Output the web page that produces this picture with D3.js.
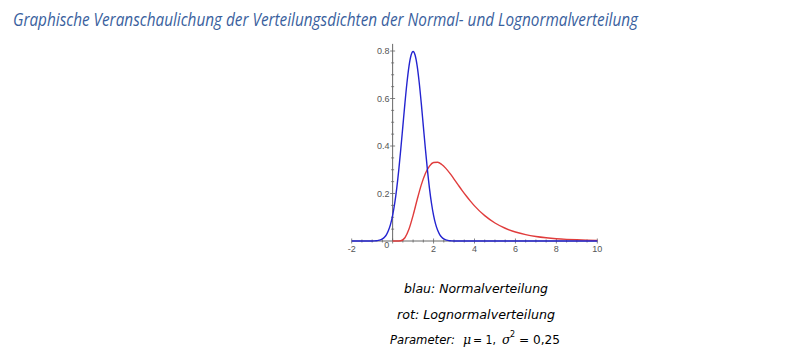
<!DOCTYPE html>
<html><head><meta charset="utf-8">
<script src="https://cdn.jsdelivr.net/npm/d3@7"></script>
<style>body{margin:0;background:#fff;} svg{display:block;}</style>
</head><body>
<script>
// Normal density (blau), mu=1, sigma=0.5
const normalX = [-2,-1.0,-0.9,-0.8,-0.7,-0.6,-0.5,-0.4,-0.3,-0.2,-0.1,0,0.1,0.2,0.3,0.4,0.5,0.6,0.7,0.8,0.9,1.0,1.1,1.2,1.3,1.4,1.5,1.6,1.7,1.8,1.9,2.0,2.1,2.2,2.3,2.4,2.5,2.6,2.7,2.8,2.9,3.0,10];
const normalY = [0,0.0003,0.0006,0.0012,0.0025,0.0048,0.0089,0.0158,0.0272,0.0448,0.0709,0.1080,0.1579,0.2218,0.2995,0.3884,0.4839,0.5794,0.6664,0.7365,0.7821,0.7979,0.7821,0.7365,0.6664,0.5794,0.4839,0.3884,0.2995,0.2218,0.1579,0.1080,0.0709,0.0448,0.0272,0.0158,0.0089,0.0048,0.0025,0.0012,0.0006,0.0003,0];
// Lognormal density (rot)
const lognormX = [0,0.2,0.4,0.6,0.8,1.0,1.2,1.4,1.6,1.8,2.0,2.2,2.4,2.6,2.8,3.0,3.2,3.4,3.6,3.8,4.0,4.5,5.0,5.5,6.0,6.5,7.0,7.5,8.0,8.5,9.0,9.5,10];
const lognormY = [0,0,0.0013,0.0138,0.0501,0.1080,0.1746,0.2363,0.2843,0.3156,0.3305,0.3316,0.3223,0.3057,0.2845,0.2608,0.2364,0.2123,0.1893,0.1678,0.1480,0.1067,0.0759,0.0537,0.0380,0.0268,0.0190,0.0136,0.0097,0.0070,0.0050,0.0037,0.0027];
const xTickLabels = [-2,0,2,4,6,8,10];
const yTickLabels = [0.2,0.4,0.6,0.8];
const titleText = "Graphische Veranschaulichung der Verteilungsdichten der Normal- und Lognormalverteilung";
const captionLines = ["blau: Normalverteilung","rot: Lognormalverteilung"];

const W=809,H=355;
const svg=d3.select("body").append("svg").attr("width",W).attr("height",H);

svg.append("text").attr("x",13).attr("y",26)
  .attr("font-family","'Open Sans', sans-serif").attr("font-style","italic")
  .attr("font-size",18).attr("fill","#3a5f9e")
  .attr("textLength",625).attr("lengthAdjust","spacingAndGlyphs")
  .text(titleText);

const x=d3.scaleLinear().domain([-2,10]).range([351.7,597.3]);
const y=d3.scaleLinear().domain([0,0.8]).range([241,51]);
const axisCol="#666";

const g=svg.append("g");
g.append("line").attr("x1",x(-2)).attr("x2",x(10)).attr("y1",y(0)).attr("y2",y(0)).attr("stroke",axisCol).attr("stroke-width",1);
g.append("line").attr("x1",x(0)).attr("x2",x(0)).attr("y1",y(0)).attr("y2",y(0.83)).attr("stroke",axisCol).attr("stroke-width",1);

d3.range(-2,10.001,0.5).forEach(v=>{
  const major = Math.abs(v-Math.round(v/2)*2)<1e-6;
  g.append("line").attr("x1",x(v)).attr("x2",x(v)).attr("y1",y(0)-(major?2.5:1.5)).attr("y2",y(0)+(major?2.5:1.5)).attr("stroke",axisCol).attr("stroke-width",0.8);
});
d3.range(0.05,0.801,0.05).forEach(v=>{
  const major = Math.abs(v*5-Math.round(v*5))<1e-6;
  g.append("line").attr("y1",y(v)).attr("y2",y(v)).attr("x1",x(0)-(major?2.5:1.5)).attr("x2",x(0)+(major?2.5:1.5)).attr("stroke",axisCol).attr("stroke-width",0.8);
});

g.selectAll("text.xt").data(xTickLabels).enter().append("text")
  .attr("x",d=>d===0? x(0)-6 : x(d)).attr("y",d=>d===0? y(0)+7 : y(0)+10.5)
  .attr("text-anchor","middle").attr("font-family","'Liberation Sans', Arial, sans-serif")
  .attr("font-size",9).attr("fill","#555").text(d=>d);
g.selectAll("text.yt").data(yTickLabels).enter().append("text")
  .attr("x",x(0)-3).attr("y",d=>y(d)+3)
  .attr("text-anchor","end").attr("font-family","'Liberation Sans', Arial, sans-serif")
  .attr("font-size",9).attr("fill","#555").text(d=>d);

const line=d3.line().x(d=>x(d[0])).y(d=>y(d[1])).curve(d3.curveMonotoneX);
svg.append("path").datum(lognormX.map((v,i)=>[v,lognormY[i]]))
  .attr("d",line).attr("fill","none").attr("stroke","#e03c3c").attr("stroke-width",1.4);
svg.append("path").datum(normalX.map((v,i)=>[v,normalY[i]]))
  .attr("d",line).attr("fill","none").attr("stroke","#2424d0").attr("stroke-width",1.4);

const capFont="'DejaVu Sans', Verdana, sans-serif";
svg.append("text").attr("x",476).attr("y",293).attr("text-anchor","middle")
  .attr("font-family",capFont).attr("font-style","italic").attr("font-size",12.5)
  .attr("textLength",144).attr("lengthAdjust","spacingAndGlyphs").text(captionLines[0]);
svg.append("text").attr("x",476).attr("y",319).attr("text-anchor","middle")
  .attr("font-family",capFont).attr("font-style","italic").attr("font-size",12.5)
  .attr("textLength",158).attr("lengthAdjust","spacingAndGlyphs").text(captionLines[1]);

const py=344;
svg.append("text").attr("x",390).attr("y",py).attr("font-family",capFont).attr("font-style","italic")
  .attr("font-size",12.5).attr("textLength",65).attr("lengthAdjust","spacingAndGlyphs").text("Parameter:");
svg.append("text").attr("x",463).attr("y",py).attr("font-family","'DejaVu Serif', serif").attr("font-style","italic").attr("font-size",12.5).text("μ");
svg.append("text").attr("x",473).attr("y",py).attr("font-family",capFont).attr("font-size",12.5)
  .attr("textLength",23).attr("lengthAdjust","spacingAndGlyphs").text("= 1,");
svg.append("text").attr("x",502).attr("y",py).attr("font-family","'DejaVu Serif', serif").attr("font-style","italic").attr("font-size",12.5).text("σ");
svg.append("text").attr("x",510).attr("y",py-7).attr("font-family",capFont).attr("font-size",8).text("2");
svg.append("text").attr("x",519).attr("y",py).attr("font-family",capFont).attr("font-size",12.5)
  .attr("textLength",41).attr("lengthAdjust","spacingAndGlyphs").text("= 0,25");
</script>
</body></html>
